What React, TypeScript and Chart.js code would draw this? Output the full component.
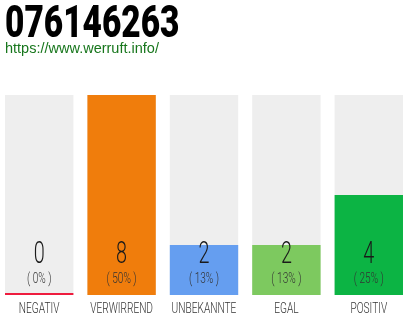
import React, { useEffect, useRef } from "react";
import { Chart, registerables } from "chart.js";

Chart.register(...registerables);

const titleText = "076146263";
const linkText = "https://www.werruft.info/";
const categories = ["NEGATIV", "VERWIRREND", "UNBEKANNTE", "EGAL", "POSITIV"];
const counts = [0, 8, 2, 2, 4];
const barColors = ["#ee1c3e", "#f07d0c", "#659ef0", "#7dc95f", "#0cb444"];
const trackColor = "#eeeeee";

const total = counts.reduce((a, b) => a + b, 0);
const maxCount = Math.max(...counts);
const percents = counts.map((c) => Math.round((c / total) * 100));

// Draws condensed text by squeezing the canvas horizontally around x.
function squeezed(
  ctx: CanvasRenderingContext2D,
  text: string,
  x: number,
  y: number,
  font: string,
  color: string,
  sx: number
) {
  ctx.save();
  ctx.translate(x, y);
  ctx.scale(sx, 1);
  ctx.font = font;
  ctx.fillStyle = color;
  ctx.textAlign = "center";
  ctx.textBaseline = "alphabetic";
  ctx.fillText(text, 0, 0);
  ctx.restore();
}

const labelPlugin = {
  id: "barLabels",
  afterDatasetsDraw(chart: any) {
    const ctx = chart.ctx as CanvasRenderingContext2D;
    const meta = chart.getDatasetMeta(1);
    const bottom = chart.chartArea.bottom;
    meta.data.forEach((bar: any, i: number) => {
      const x = bar.x;
      squeezed(ctx, String(counts[i]), x, bottom - 32, "300 31px Roboto", "#1a1a1a", 0.64);
      squeezed(ctx, `( ${percents[i]}% )`, x, bottom - 12, "300 14px Roboto", "#333333", 0.72);
      squeezed(ctx, categories[i], x, bottom + 18, "300 14.5px Roboto", "#333333", 0.7);
    });
  },
};

export default function App() {
  const canvasRef = useRef<HTMLCanvasElement | null>(null);

  useEffect(() => {
    if (!canvasRef.current) return;
    const chart = new Chart(canvasRef.current, {
      type: "bar",
      data: {
        labels: categories,
        datasets: [
          {
            data: counts.map(() => maxCount),
            backgroundColor: trackColor,
            grouped: false,
            order: 2,
            barPercentage: 0.83,
            categoryPercentage: 1,
          },
          {
            data: counts,
            backgroundColor: barColors,
            grouped: false,
            order: 1,
            minBarLength: 2,
            barPercentage: 0.83,
            categoryPercentage: 1,
          },
        ],
      },
      options: {
        responsive: false,
        animation: false,
        layout: { padding: { top: 95, bottom: 25, left: 0, right: 0 } },
        plugins: {
          legend: { display: false },
          tooltip: { enabled: false },
        },
        scales: {
          x: { display: false, offset: true },
          y: { display: false, min: 0, max: maxCount },
        },
      },
      plugins: [labelPlugin],
    });
    return () => chart.destroy();
  }, []);

  return (
    <div
      style={{
        position: "fixed",
        left: 0,
        top: 0,
        width: 410,
        height: 320,
        overflow: "hidden",
        background: "#ffffff",
      }}
    >
      <canvas
        ref={canvasRef}
        width={412}
        height={320}
        style={{ position: "absolute", left: -2, top: 0, width: 412, height: 320 }}
      />
      <div
        style={{
          position: "absolute",
          left: 5,
          top: 0,
          fontFamily: "Roboto, sans-serif",
          fontWeight: 900,
          fontSize: 44,
          lineHeight: "44px",
          color: "#000000",
          transform: "scaleX(0.76)",
          transformOrigin: "left top",
          whiteSpace: "nowrap",
        }}
      >
        {titleText}
      </div>
      <div
        style={{
          position: "absolute",
          left: 5,
          top: 41,
          fontFamily: "'Liberation Sans', Arial, sans-serif",
          fontSize: 14.5,
          lineHeight: "15px",
          color: "#17761c",
          whiteSpace: "nowrap",
        }}
      >
        {linkText}
      </div>
    </div>
  );
}
